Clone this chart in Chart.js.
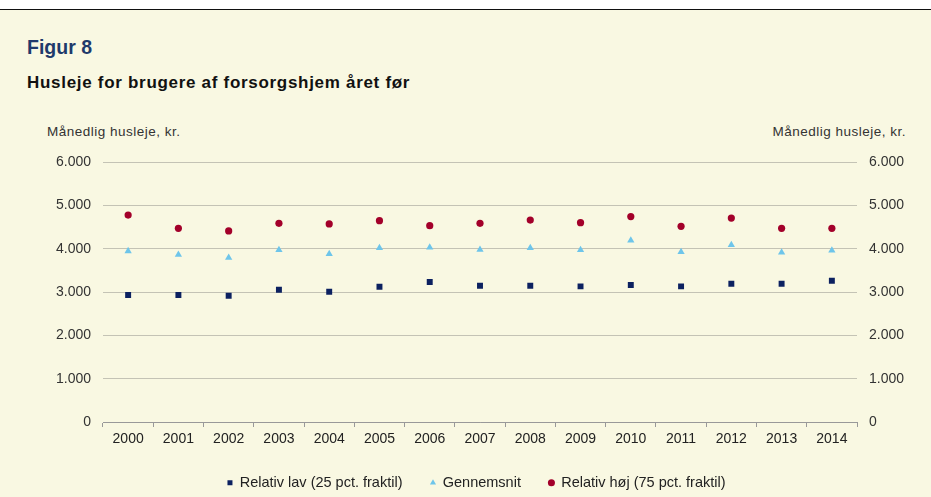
<!DOCTYPE html>
<html>
<head>
<meta charset="utf-8">
<script src="https://cdn.jsdelivr.net/npm/chart.js@4/dist/chart.umd.min.js"></script>
<style>
  html, body { margin: 0; padding: 0; }
  body { width: 931px; height: 497px; background: #f9f8e2; position: relative; overflow: hidden; font-family: "Liberation Sans", Arial, sans-serif; }
  #topbar { position: absolute; left: 0; top: 0; width: 931px; height: 9px; background: #fff; border-bottom: 1.5px solid #111; }
  #fig { position: absolute; left: 27px; top: 36px; font-size: 19.5px; font-weight: bold; color: #1f3a6b; }
  #sub { position: absolute; left: 27px; top: 73px; font-size: 17px; font-weight: bold; color: #111; letter-spacing: 0.7px; }
  .ytitle { position: absolute; top: 124px; font-size: 13.5px; color: #333; letter-spacing: 0.5px; }
  #yl { left: 47px; }
  #yr { right: 25px; }
  #wrap { position: absolute; left: 0; top: 0; width: 931px; height: 500px; }
</style>
</head>
<body>
<div id="topbar"></div>
<div id="fig">Figur 8</div>
<div id="sub">Husleje for brugere af forsorgshjem året før</div>
<div class="ytitle" id="yl">Månedlig husleje, kr.</div>
<div class="ytitle" id="yr">Månedlig husleje, kr.</div>
<div id="wrap"><canvas id="chart" width="931" height="500"></canvas></div>
<script>
const years = ['2000', '2001', '2002', '2003', '2004', '2005', '2006', '2007', '2008', '2009', '2010', '2011', '2012', '2013', '2014'];
const relativLav = [2930, 2930, 2915, 3050, 3005, 3120, 3230, 3145, 3145, 3130, 3160, 3130, 3190, 3190, 3260];
const gennemsnit = [3945, 3860, 3790, 3970, 3880, 4015, 4030, 3975, 4015, 3970, 4190, 3925, 4085, 3915, 3960];
const relativHoej = [4775, 4470, 4410, 4585, 4570, 4645, 4530, 4585, 4660, 4600, 4740, 4515, 4705, 4470, 4470];
const yTicks = [0, 1000, 2000, 3000, 4000, 5000, 6000];

// dansk tusindtalsseparator
const fmt = v => v === 0 ? '0' : (v / 1000) + '.000';

const tickFont = { family: '"Liberation Sans", Arial, sans-serif', size: 14 };

const yAxis = (pos, extra) => Object.assign({
  position: pos,
  min: 0,
  max: 6000,
  afterBuildTicks: s => { s.ticks = yTicks.map(v => ({ value: v })); },
  ticks: { color: '#333', font: tickFont, padding: 12, callback: fmt },
  border: { display: false }
}, extra);

new Chart(document.getElementById('chart'), {
  type: 'line',
  data: {
    labels: years,
    datasets: [
      {
        label: 'Relativ lav (25 pct. fraktil)',
        data: relativLav,
        pointStyle: 'rect',
        pointRadius: 4.2,
        backgroundColor: '#0c2160',
        borderColor: '#0c2160',
        borderWidth: 0,
        showLine: false
      },
      {
        label: 'Gennemsnit',
        data: gennemsnit,
        pointStyle: 'triangle',
        pointRadius: 4.2,
        backgroundColor: '#6ec5ea',
        borderColor: '#6ec5ea',
        borderWidth: 0,
        showLine: false
      },
      {
        label: 'Relativ høj (75 pct. fraktil)',
        data: relativHoej,
        pointStyle: 'circle',
        pointRadius: 3.6,
        backgroundColor: '#a3002a',
        borderColor: '#a3002a',
        borderWidth: 0,
        showLine: false
      }
    ]
  },
  options: {
    responsive: false,
    animation: false,
    maintainAspectRatio: false,
    // venstre padding flytter legenden mod plotområdets midte
    layout: { padding: { top: 162, left: 22, right: 0, bottom: 0 } },
    plugins: {
      tooltip: { enabled: false },
      legend: {
        position: 'bottom',
        labels: {
          usePointStyle: true,
          boxWidth: 5,
          boxHeight: 5,
          padding: 28,
          color: '#222',
          font: { family: '"Liberation Sans", Arial, sans-serif', size: 14.5 }
        }
      }
    },
    scales: {
      x: {
        offset: true,
        afterFit: s => { s.height = 25.5; },
        grid: { offset: true, drawOnChartArea: false, tickLength: 5, color: '#999' },
        border: { color: '#999' },
        ticks: { color: '#222', font: tickFont, padding: 4, maxRotation: 0 }
      },
      y: yAxis('left', {
        afterFit: s => { s.width = 81; },
        grid: { drawTicks: false, color: '#c4c3b5' }
      }),
      y2: yAxis('right', {
        afterFit: s => { s.width = 74; },
        grid: { drawTicks: false, drawOnChartArea: false }
      })
    }
  }
});
</script>
</body>
</html>
